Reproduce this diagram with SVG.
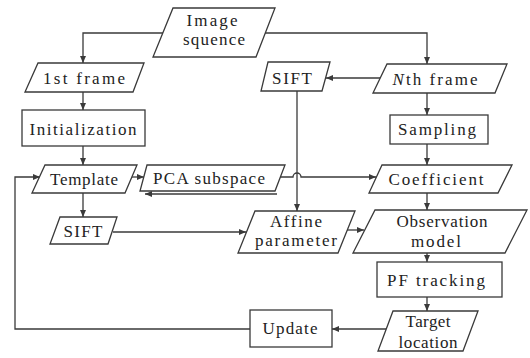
<svg xmlns="http://www.w3.org/2000/svg" width="530" height="358" viewBox="0 0 530 358">
  <style>
    .shape { fill: #ffffff; stroke: #3a3a3a; stroke-width: 1.3; }
    .edge { fill: none; stroke: #3a3a3a; stroke-width: 1.3; }
    .lbl { font-family: "Liberation Serif", "Times New Roman", serif; font-size: 17px; fill: #222222; text-anchor: middle; }
  </style>
  <defs>
    <marker id="arrow" markerUnits="userSpaceOnUse" markerWidth="8" markerHeight="6" refX="7" refY="3" orient="auto">
      <path d="M0,0 L7,3 L0,6 z" fill="#3a3a3a"/>
    </marker>
  </defs>
  <rect width="530" height="358" fill="#ffffff"/>

  <g id="connectors">
    <path class="edge" d="M163,33 H83 V63" marker-end="url(#arrow)"/>
    <path class="edge" d="M265,33 H427 V64" marker-end="url(#arrow)"/>
    <path class="edge" d="M83,92 V110" marker-end="url(#arrow)"/>
    <path class="edge" d="M83,146 V165" marker-end="url(#arrow)"/>
    <path class="edge" d="M83,193 V217" marker-end="url(#arrow)"/>
    <path class="edge" d="M113,232 H246" marker-end="url(#arrow)"/>
    <path class="edge" d="M132,177 H144" marker-end="url(#arrow)"/>
    <path class="edge" d="M280,177 H293 a4,4 0 0 1 8,0 H376" marker-end="url(#arrow)"/>
    <path class="edge" d="M277,194 H145" marker-end="url(#arrow)"/>
    <path class="edge" d="M380,78 H326" marker-end="url(#arrow)"/>
    <path class="edge" d="M297,91 V211" marker-end="url(#arrow)"/>
    <path class="edge" d="M427,93 V115" marker-end="url(#arrow)"/>
    <path class="edge" d="M427,144 V165" marker-end="url(#arrow)"/>
    <path class="edge" d="M427,193 V210" marker-end="url(#arrow)"/>
    <path class="edge" d="M347,230 H364" marker-end="url(#arrow)"/>
    <path class="edge" d="M427,253 V262" marker-end="url(#arrow)"/>
    <path class="edge" d="M427,297 V311" marker-end="url(#arrow)"/>
    <path class="edge" d="M386,329 H332" marker-end="url(#arrow)"/>
    <path class="edge" d="M250,329 H15 V177 H40" marker-end="url(#arrow)"/>
  </g>

  <g id="image-sequence">
    <polygon class="shape" points="173,8 275,8 256,57 153,57"/>
    <text class="lbl" x="212" y="26" textLength="51" lengthAdjust="spacing">Image</text>
    <text class="lbl" x="214" y="45" textLength="62" lengthAdjust="spacing">squence</text>
  </g>

  <g id="first-frame">
    <polygon class="shape" points="38,63 144,63 133,92 25,92"/>
    <text class="lbl" x="84" y="84" textLength="82" lengthAdjust="spacing">1st frame</text>
  </g>

  <g id="initialization">
    <rect class="shape" x="22" y="110" width="123" height="36"/>
    <text class="lbl" x="83" y="135" textLength="107" lengthAdjust="spacing">Initialization</text>
  </g>

  <g id="template">
    <polygon class="shape" points="45,165 137,165 125,193 32,193"/>
    <text class="lbl" x="84" y="185" textLength="68" lengthAdjust="spacing">Template</text>
  </g>

  <g id="sift-left">
    <polygon class="shape" points="60,217 117,217 108,244 50,244"/>
    <text class="lbl" x="83" y="237" textLength="39" lengthAdjust="spacing">SIFT</text>
  </g>

  <g id="pca-subspace">
    <polygon class="shape" points="147,165 285,165 275,191 140,191"/>
    <text class="lbl" x="209" y="184" textLength="112" lengthAdjust="spacing">PCA subspace</text>
  </g>

  <g id="sift-top">
    <polygon class="shape" points="268,62 330,62 322,91 261,91"/>
    <text class="lbl" x="292" y="84" textLength="40" lengthAdjust="spacing">SIFT</text>
  </g>

  <g id="nth-frame">
    <polygon class="shape" points="387,64 507,64 495,93 373,93"/>
    <text class="lbl" x="435" y="85" textLength="85" lengthAdjust="spacing"><tspan font-style="italic">N</tspan>th frame</text>
  </g>

  <g id="sampling">
    <rect class="shape" x="390" y="115" width="98" height="29"/>
    <text class="lbl" x="437" y="135" textLength="78" lengthAdjust="spacing">Sampling</text>
  </g>

  <g id="coefficient">
    <polygon class="shape" points="382,165 512,165 498,193 369,193"/>
    <text class="lbl" x="436" y="185" textLength="95" lengthAdjust="spacing">Coefficient</text>
  </g>

  <g id="affine-parameter">
    <polygon class="shape" points="255,211 355,211 338,253 238,253"/>
    <text class="lbl" x="296" y="227" textLength="52" lengthAdjust="spacing">Affine</text>
    <text class="lbl" x="296" y="246" textLength="82" lengthAdjust="spacing">parameter</text>
  </g>

  <g id="observation-model">
    <polygon class="shape" points="375,210 527,210 505,253 353,253"/>
    <text class="lbl" x="442" y="227" textLength="91" lengthAdjust="spacing">Observation</text>
    <text class="lbl" x="436" y="247" textLength="50" lengthAdjust="spacing">model</text>
  </g>

  <g id="pf-tracking">
    <rect class="shape" x="377" y="262" width="125" height="35"/>
    <text class="lbl" x="436" y="286" textLength="98" lengthAdjust="spacing">PF tracking</text>
  </g>

  <g id="target-location">
    <polygon class="shape" points="393,311 478,311 463,351 378,351"/>
    <text class="lbl" x="428" y="327" textLength="45" lengthAdjust="spacing">Target</text>
    <text class="lbl" x="428" y="348" textLength="59" lengthAdjust="spacing">location</text>
  </g>

  <g id="update">
    <rect class="shape" x="250" y="310" width="82" height="37"/>
    <text class="lbl" x="290" y="334" textLength="55" lengthAdjust="spacing">Update</text>
  </g>
</svg>
